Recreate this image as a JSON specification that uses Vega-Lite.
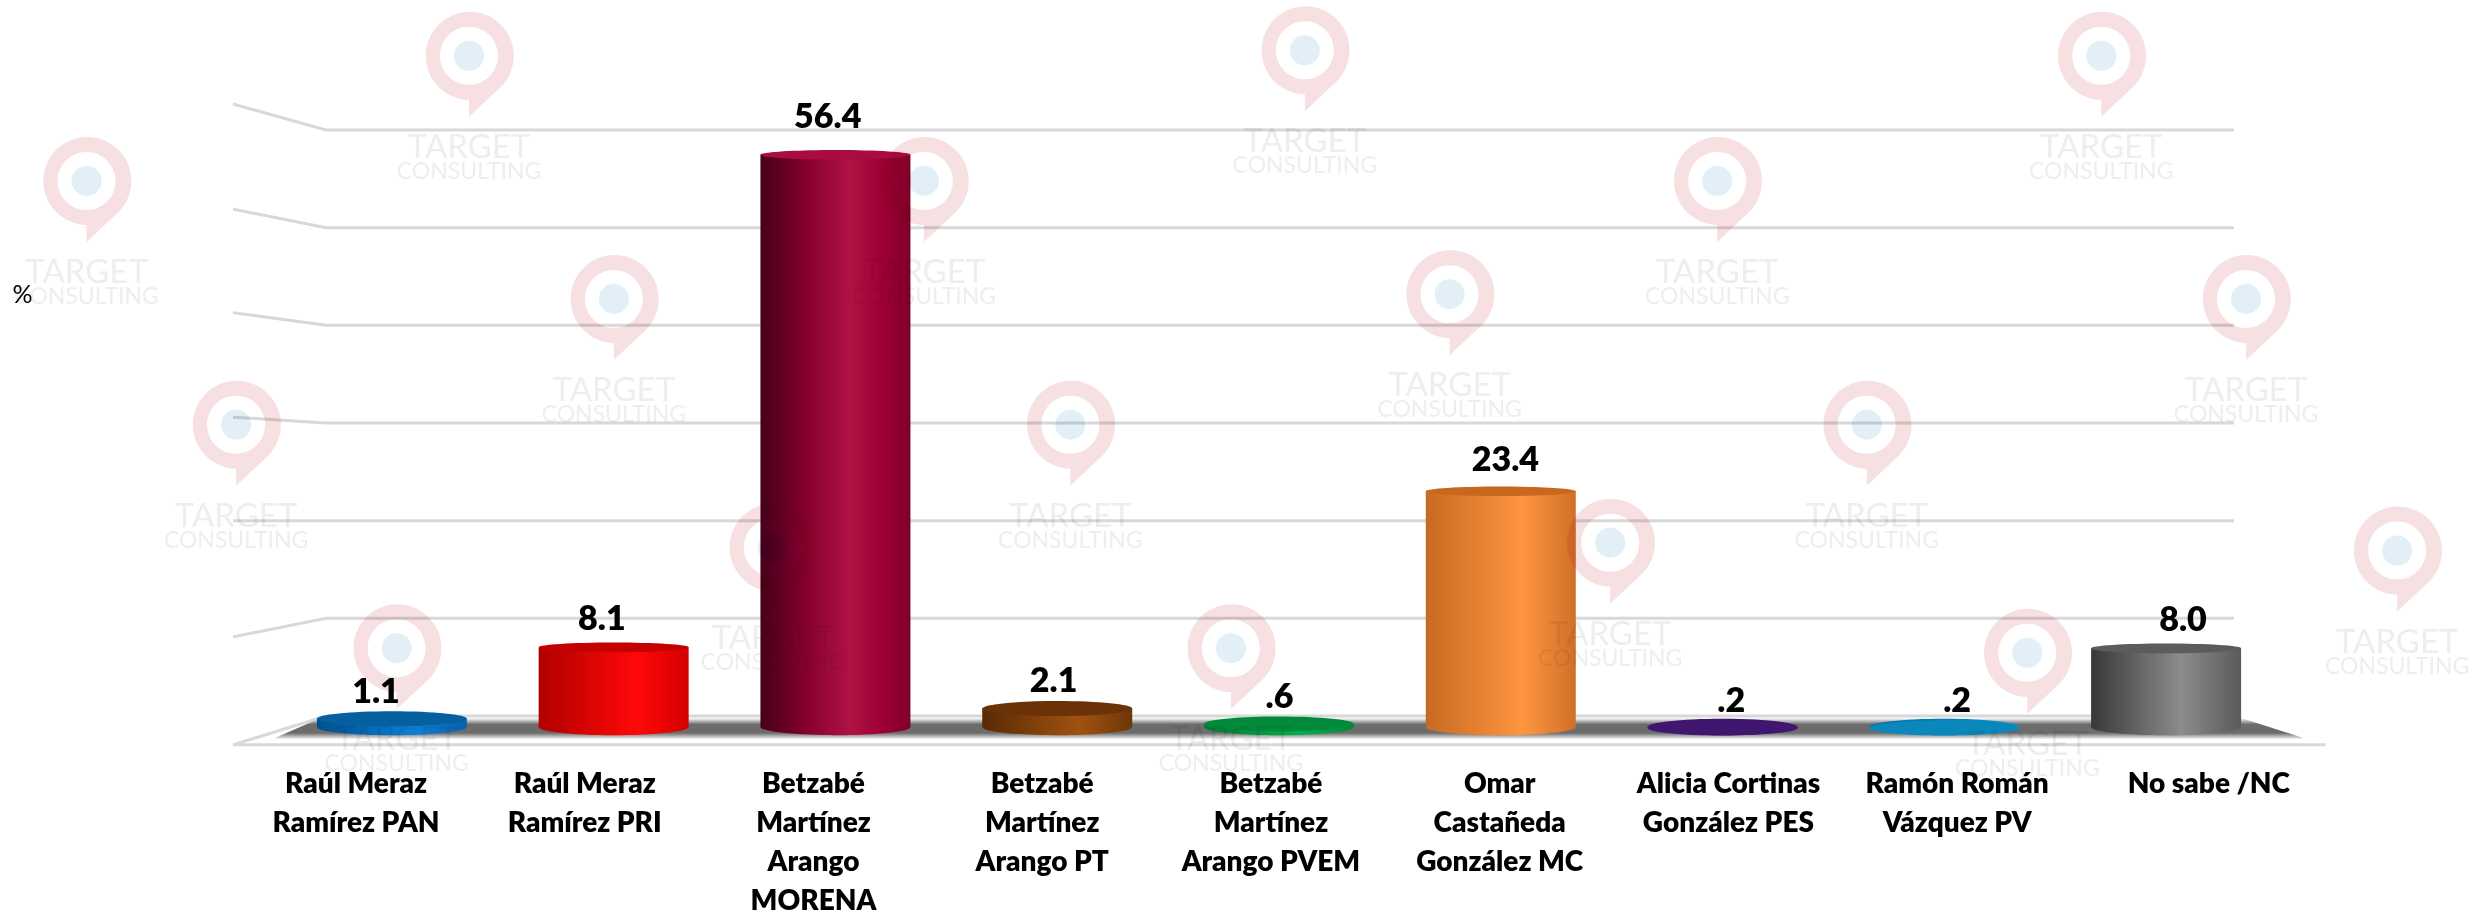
{
"$schema":"https://vega.github.io/schema/vega-lite/v6.json",
"width":2468,"height":914,"padding":0,"autosize":{"type":"none"},"background":"white",
"config":{"view":{"stroke":null},"font":"Lato"},
"datasets":{
"results":[
{"label":"Raúl Meraz|Ramírez PAN","party":"PAN","pct":1.1,"shown":"1.1"},
{"label":"Raúl Meraz|Ramírez PRI","party":"PRI","pct":8.1,"shown":"8.1"},
{"label":"Betzabé|Martínez|Arango|MORENA","party":"MORENA","pct":56.4,"shown":"56.4"},
{"label":"Betzabé|Martínez|Arango PT","party":"PT","pct":2.1,"shown":"2.1"},
{"label":"Betzabé|Martínez|Arango PVEM","party":"PVEM","pct":0.6,"shown":".6"},
{"label":"Omar|Castañeda|González MC","party":"MC","pct":23.4,"shown":"23.4"},
{"label":"Alicia Cortinas|González  PES","party":"PES","pct":0.2,"shown":".2"},
{"label":"Ramón Román|Vázquez PV","party":"PV","pct":0.2,"shown":".2"},
{"label":"No sabe /NC","party":"NS","pct":8.0,"shown":"8.0"}
],
"wall":[
{"tick":60,"w":0,"level":62.66},{"tick":60,"w":1,"level":60},{"tick":60,"w":2,"level":60},
{"tick":50,"w":0,"level":51.9},{"tick":50,"w":1,"level":50},{"tick":50,"w":2,"level":50},
{"tick":40,"w":0,"level":41.3},{"tick":40,"w":1,"level":40},{"tick":40,"w":2,"level":40},
{"tick":30,"w":0,"level":30.6},{"tick":30,"w":1,"level":30},{"tick":30,"w":2,"level":30},
{"tick":20,"w":0,"level":20},{"tick":20,"w":1,"level":20},{"tick":20,"w":2,"level":20},
{"tick":10,"w":0,"level":8.1},{"tick":10,"w":1,"level":10},{"tick":10,"w":2,"level":10},
{"tick":0,"w":0,"level":-2.95},{"tick":0,"w":1,"level":0},{"tick":0,"w":2,"level":0},
{"tick":-1,"w":0,"level":-2.95},{"tick":-1,"w":2.048,"level":-2.95}
],
"floor":[
{"f":0,"top":-2.2,"bottom":-2.4},
{"f":0.022,"top":-0.2,"bottom":-2.4},
{"f":0.97,"top":-0.2,"bottom":-2.4},
{"f":1,"top":-2.2,"bottom":-2.4}
],
"marks":[
{"sx":298,"sy":35.5},{"sx":829,"sy":32},{"sx":1335,"sy":35.5},
{"sx":55,"sy":115},{"sx":587,"sy":115},{"sx":1091,"sy":115},
{"sx":390,"sy":190},{"sx":921,"sy":187},{"sx":1427,"sy":190},
{"sx":150,"sy":270},{"sx":680,"sy":270},{"sx":1186,"sy":270},
{"sx":491,"sy":348},{"sx":1023,"sy":345},{"sx":1523,"sy":350},
{"sx":252,"sy":412},{"sx":782,"sy":412},{"sx":1288,"sy":415}
]
},
"resolve":{"scale":{"x":"independent","y":"independent"}},
"layer":[
{"data":{"name":"wall"},
 "mark":{"type":"line","color":"#d8d8d8","strokeWidth":3,"interpolate":"linear"},
 "encoding":{
  "x":{"field":"w","type":"quantitative","axis":null,"scale":{"domain":[0,1,2],"range":[233,326,2234],"clamp":false}},
  "y":{"field":"level","type":"quantitative","scale":{"domain":[0,60],"range":[716,130],"nice":false,"zero":false},
   "axis":{"title":"%","domain":false,"ticks":false,"labels":false,"grid":false,"titleAngle":0,"titleX":22,"titleY":294,"titleFontSize":25,"titleFont":"Lato","titleFontWeight":"normal","titleColor":"#000","titleAlign":"center","titleBaseline":"middle"}},
  "detail":{"field":"tick"}
 }},
{"data":{"name":"floor"},
 "mark":{"type":"area","color":{"gradient":"linear","x1":0,"y1":0,"x2":0,"y2":1,"stops":[{"offset":0,"color":"#ffffff"},{"offset":0.3,"color":"#6c6c6c"},{"offset":0.7,"color":"#6c6c6c"},{"offset":1,"color":"#ffffff"}]}},
 "encoding":{
  "x":{"field":"f","type":"quantitative","axis":null,"scale":{"domain":[0,1],"range":[276,2302],"nice":false}},
  "y":{"field":"top","type":"quantitative","axis":null,"scale":{"domain":[0,60],"range":[716,130],"nice":false,"zero":false}},
  "y2":{"field":"bottom"}
 }},
{"data":{"name":"results"},
 "layer":[
 {"mark":{"type":"bar","size":150,"cornerRadius":0},
  "encoding":{
   "x":{"field":"label","type":"nominal","sort":null,"axis":null,"scale":{"type":"band","range":[281,2277],"paddingInner":0,"paddingOuter":0}},
   "y":{"field":"pct","type":"quantitative","axis":null,"scale":{"domain":[0,60],"range":[730,118],"nice":false,"zero":false}},
   "y2":{"datum":0.3},
   "color":{"condition":[
    {"test":"datum.party==='PAN'","value":{"gradient":"linear","x1":0,"y1":0,"x2":1,"y2":0,"stops":[{"offset":0,"color":"#004f8c"},{"offset":0.65,"color":"#0c80d8"},{"offset":1,"color":"#0a62aa"}]}},
    {"test":"datum.party==='PRI'","value":{"gradient":"linear","x1":0,"y1":0,"x2":1,"y2":0,"stops":[{"offset":0,"color":"#b00000"},{"offset":0.65,"color":"#ff0808"},{"offset":1,"color":"#d40000"}]}},
    {"test":"datum.party==='MORENA'","value":{"gradient":"linear","x1":0,"y1":0,"x2":1,"y2":0,"stops":[{"offset":0,"color":"#45001a"},{"offset":0.3,"color":"#85002f"},{"offset":0.6,"color":"#b01244"},{"offset":0.8,"color":"#a00035"},{"offset":1,"color":"#800028"}]}},
    {"test":"datum.party==='PT'","value":{"gradient":"linear","x1":0,"y1":0,"x2":1,"y2":0,"stops":[{"offset":0,"color":"#5a2a05"},{"offset":0.65,"color":"#a0520f"},{"offset":1,"color":"#6e360a"}]}},
    {"test":"datum.party==='PVEM'","value":{"gradient":"linear","x1":0,"y1":0,"x2":1,"y2":0,"stops":[{"offset":0,"color":"#007a30"},{"offset":0.65,"color":"#00b050"},{"offset":1,"color":"#008a3a"}]}},
    {"test":"datum.party==='MC'","value":{"gradient":"linear","x1":0,"y1":0,"x2":1,"y2":0,"stops":[{"offset":0,"color":"#c76a20"},{"offset":0.65,"color":"#ff9540"},{"offset":1,"color":"#cf7028"}]}},
    {"test":"datum.party==='PES'","value":"#40166e"},
    {"test":"datum.party==='PV'","value":{"gradient":"linear","x1":0,"y1":0,"x2":1,"y2":0,"stops":[{"offset":0,"color":"#0070a8"},{"offset":1,"color":"#0890c8"}]}},
    {"test":"datum.party==='NS'","value":{"gradient":"linear","x1":0,"y1":0,"x2":1,"y2":0,"stops":[{"offset":0,"color":"#383838"},{"offset":0.6,"color":"#8c8c8c"},{"offset":1,"color":"#5a5a5a"}]}}
   ],"value":"#888888"}
  }},
 {"mark":{"type":"point","filled":true,"opacity":1,"strokeWidth":0,"size":90000,"shape":"M-0.5,0 A0.5,0.055 0 1 1 0.5,0 A0.5,0.055 0 1 1 -0.5,0 Z"},
  "encoding":{
   "x":{"field":"label","type":"nominal","sort":null,"axis":null},
   "y":{"datum":0.3,"type":"quantitative"},
   "color":{"condition":[
    {"test":"datum.party==='PAN'","value":{"gradient":"linear","x1":0,"y1":0,"x2":1,"y2":0,"stops":[{"offset":0,"color":"#004f8c"},{"offset":0.65,"color":"#0c80d8"},{"offset":1,"color":"#0a62aa"}]}},
    {"test":"datum.party==='PRI'","value":{"gradient":"linear","x1":0,"y1":0,"x2":1,"y2":0,"stops":[{"offset":0,"color":"#b00000"},{"offset":0.65,"color":"#ff0808"},{"offset":1,"color":"#d40000"}]}},
    {"test":"datum.party==='MORENA'","value":{"gradient":"linear","x1":0,"y1":0,"x2":1,"y2":0,"stops":[{"offset":0,"color":"#45001a"},{"offset":0.3,"color":"#85002f"},{"offset":0.6,"color":"#b01244"},{"offset":0.8,"color":"#a00035"},{"offset":1,"color":"#800028"}]}},
    {"test":"datum.party==='PT'","value":{"gradient":"linear","x1":0,"y1":0,"x2":1,"y2":0,"stops":[{"offset":0,"color":"#5a2a05"},{"offset":0.65,"color":"#a0520f"},{"offset":1,"color":"#6e360a"}]}},
    {"test":"datum.party==='PVEM'","value":{"gradient":"linear","x1":0,"y1":0,"x2":1,"y2":0,"stops":[{"offset":0,"color":"#007a30"},{"offset":0.65,"color":"#00b050"},{"offset":1,"color":"#008a3a"}]}},
    {"test":"datum.party==='MC'","value":{"gradient":"linear","x1":0,"y1":0,"x2":1,"y2":0,"stops":[{"offset":0,"color":"#c76a20"},{"offset":0.65,"color":"#ff9540"},{"offset":1,"color":"#cf7028"}]}},
    {"test":"datum.party==='PES'","value":"#40166e"},
    {"test":"datum.party==='PV'","value":{"gradient":"linear","x1":0,"y1":0,"x2":1,"y2":0,"stops":[{"offset":0,"color":"#0070a8"},{"offset":1,"color":"#0890c8"}]}},
    {"test":"datum.party==='NS'","value":{"gradient":"linear","x1":0,"y1":0,"x2":1,"y2":0,"stops":[{"offset":0,"color":"#383838"},{"offset":0.6,"color":"#8c8c8c"},{"offset":1,"color":"#5a5a5a"}]}}
   ],"value":"#888888"}
  }},
 {"mark":{"type":"point","filled":true,"opacity":1,"strokeWidth":0,"size":90000},
  "encoding":{
   "x":{"field":"label","type":"nominal","sort":null,"axis":null},
   "y":{"field":"pct","type":"quantitative"},
   "shape":{"condition":{"test":"datum.pct<5","value":"M-0.5,0 A0.5,0.05 0 1 1 0.5,0 A0.5,0.05 0 1 1 -0.5,0 Z"},"value":"M-0.5,0 A0.5,0.032 0 1 1 0.5,0 A0.5,0.032 0 1 1 -0.5,0 Z"},
   "color":{"field":"party","type":"nominal","legend":null,"sort":null,"scale":{"domain":["PAN","PRI","MORENA","PT","PVEM","MC","PES","PV","NS"],"range":["#05609f","#c40000","#a80c40","#6b3208","#008a3a","#c8671e","#40166e","#0a88bc","#5c5c5c"]}}
  }}
 ]},
{"data":{"name":"results"},
 "mark":{"type":"text","font":"Lato","fontWeight":800,"fontSize":34,"color":"#000","baseline":"middle","align":"center"},
 "encoding":{
  "x":{"field":"label","type":"nominal","sort":null,"axis":null,"scale":{"type":"band","range":[263,2296],"paddingInner":0,"paddingOuter":0}},
  "y":{"field":"pct","type":"quantitative","axis":null,"scale":{"domain":[0,60],"range":[704,80.6],"nice":false,"zero":false}},
  "text":{"field":"shown"}
 }},
{"data":{"name":"results"},
 "mark":{"type":"point","opacity":0},
 "encoding":{
  "x":{"field":"label","type":"nominal","sort":null,"title":null,"scale":{"type":"band","range":[241.65,2300.25],"paddingInner":0,"paddingOuter":0},
   "axis":{"orient":"bottom","domain":false,"ticks":false,"grid":false,"labelAngle":0,"offset":-144,"labelPadding":0,"labelFont":"Lato","labelFontWeight":800,"labelFontSize":28,"labelColor":"#000","labelLineHeight":39,"labelAlign":"center","labelBaseline":"top","labelOverlap":false,"labelLimit":400,"labelOffset":{"condition":{"test":"datum.value==='No sabe /NC'","value":23},"value":0},"labelExpr":"split(datum.label,'|')"}}
 }},
{"data":{"name":"marks"},
 "layer":[
 {"mark":{"type":"point","filled":true,"opacity":1,"strokeWidth":0,"size":40000,"color":"#f7e0e1","blend":"multiply","shape":"M0,0.61 L0,0.44 A0.44,0.44 0 1 1 0.32,0.31 Z M0,-0.29 A0.29,0.29 0 1 0 0,0.29 A0.29,0.29 0 1 0 0,-0.29 Z"},
  "encoding":{
   "x":{"field":"sx","type":"quantitative","axis":null,"scale":{"domain":[0,1568],"range":[0,2468],"nice":false}},
   "y":{"field":"sy","type":"quantitative","axis":null,"scale":{"domain":[0,581],"range":[0,914],"nice":false}}
  }},
 {"mark":{"type":"point","filled":true,"opacity":1,"strokeWidth":0,"size":900,"shape":"circle","color":"#e2eff7","blend":"multiply"},
  "encoding":{
   "x":{"field":"sx","type":"quantitative"},
   "y":{"field":"sy","type":"quantitative"}
  }},
 {"mark":{"type":"text","text":"TARGET","font":"Lato","fontSize":33,"color":"#eeeeee","dy":92,"baseline":"middle","align":"center","blend":"multiply"},
  "encoding":{
   "x":{"field":"sx","type":"quantitative"},
   "y":{"field":"sy","type":"quantitative"}
  }},
 {"mark":{"type":"text","text":"CONSULTING","font":"Lato","fontSize":23,"color":"#eeeeee","dy":116,"baseline":"middle","align":"center","blend":"multiply"},
  "encoding":{
   "x":{"field":"sx","type":"quantitative"},
   "y":{"field":"sy","type":"quantitative"}
  }}
 ]}
]
}
